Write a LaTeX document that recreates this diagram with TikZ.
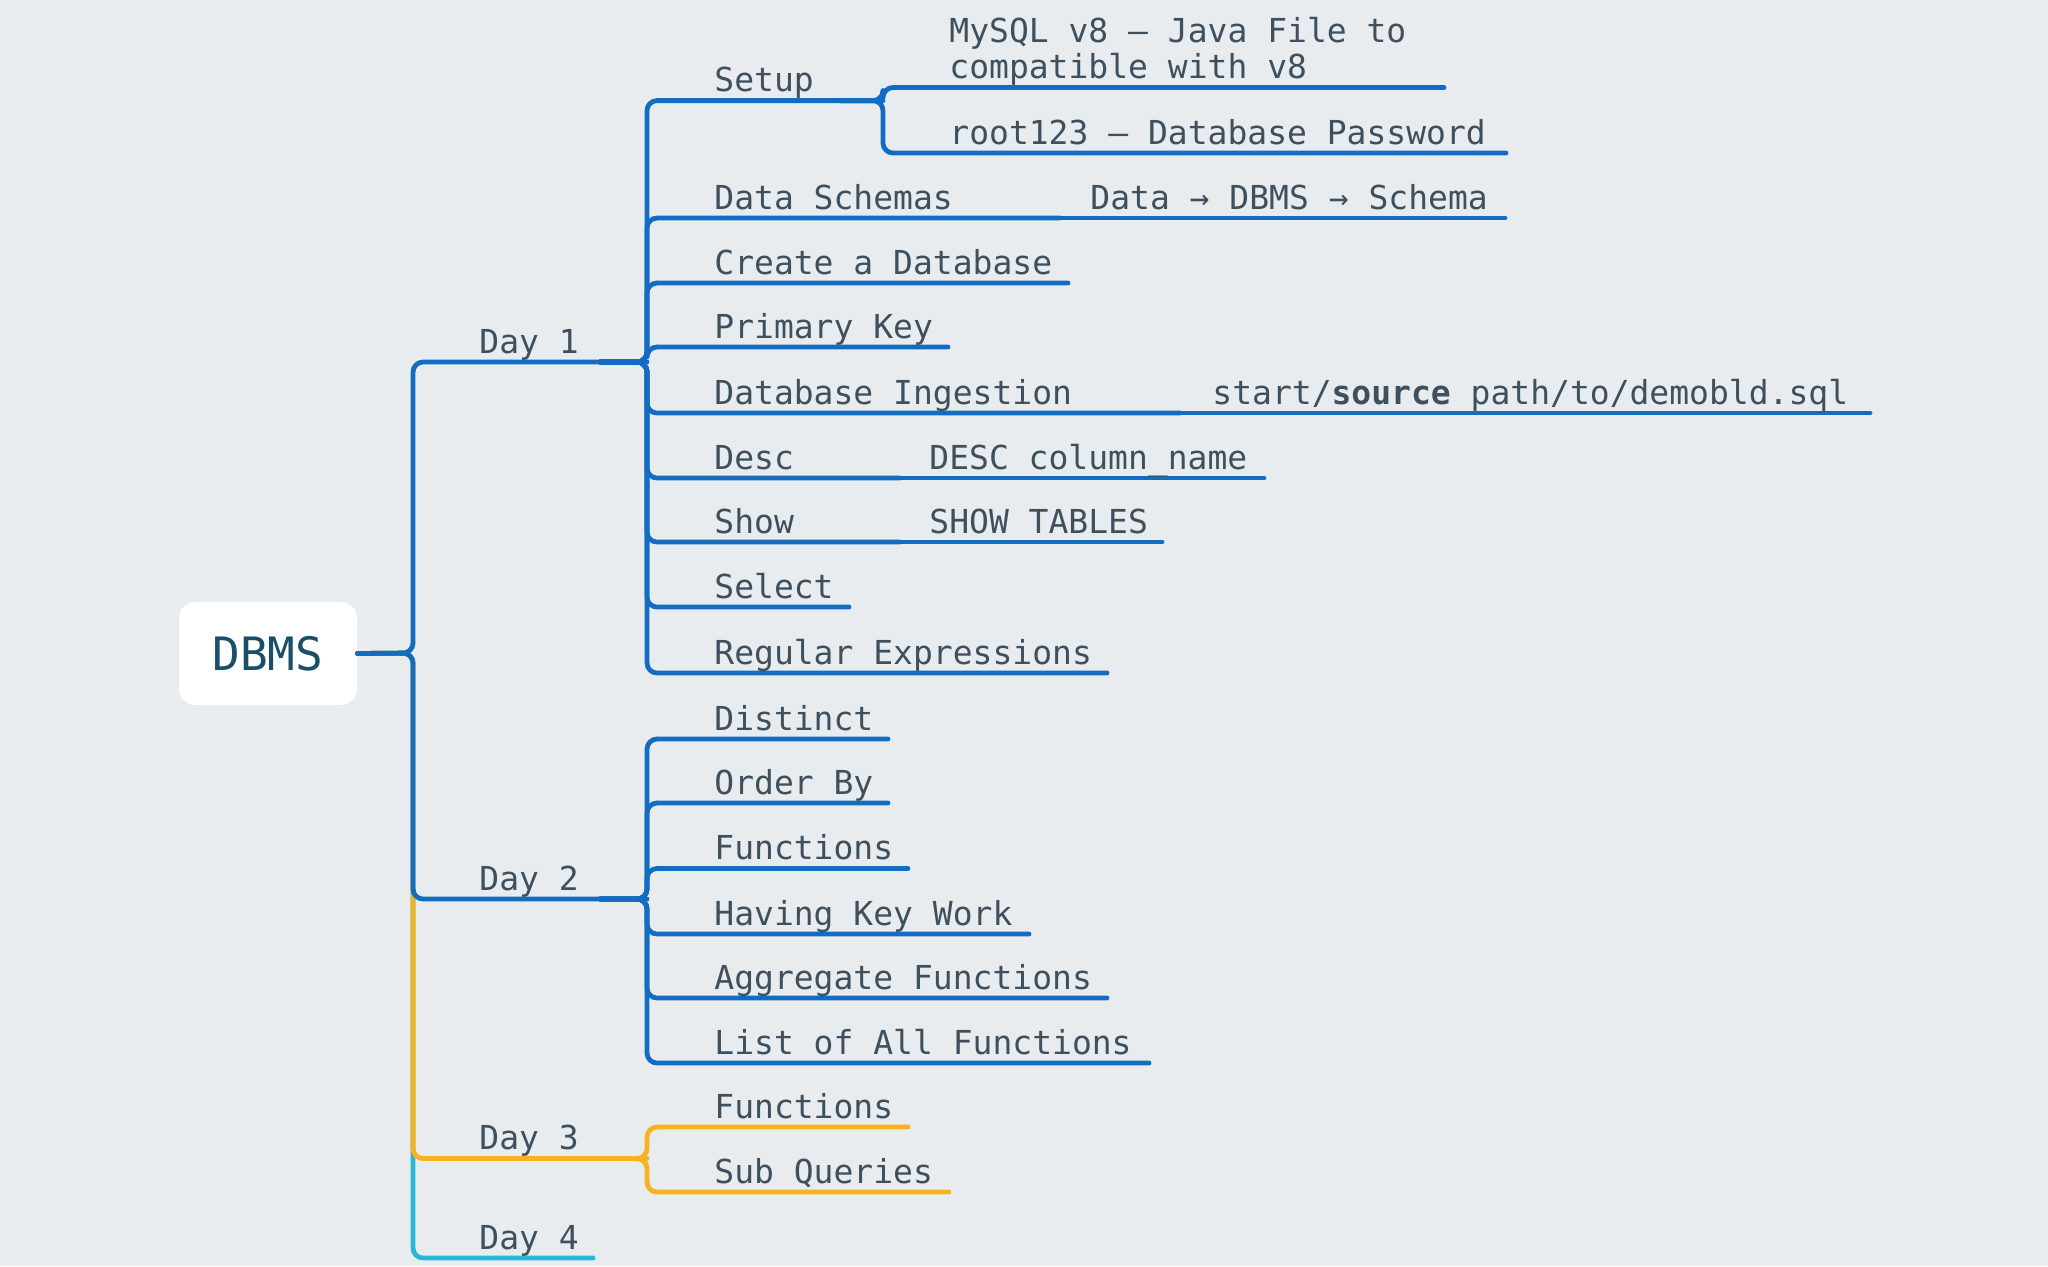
\documentclass[tikz,border=0pt]{standalone}
\usepackage{fontspec}
\setmonofont{DejaVu Sans Mono}
\usetikzlibrary{calc}
\definecolor{mapblue}{RGB}{17,108,194}
\definecolor{mapgold}{RGB}{247,178,30}
\definecolor{mapcyan}{RGB}{41,183,212}
\definecolor{mapink}{RGB}{62,80,94}
\definecolor{maproot}{RGB}{27,78,104}
\definecolor{mapback}{RGB}{232,236,239}

\begin{document}
\begin{tikzpicture}[line cap=round,line join=round,
 x=0.5pt,y=-0.5pt,
 topic/.style={anchor=base west,inner sep=0pt,text=mapink,
  font=\ttfamily\fontsize{16.5}{18}\selectfont},
 branch/.style={line width=2.4pt,rounded corners=5pt}]
 \useasboundingbox (0,0) rectangle (2048,1266);
 \fill[mapback] (0,0) rectangle (2048,1266);
 \node[fill=white,rounded corners=8pt,minimum width=89pt,
  minimum height=51.5pt,text=maproot,
  font=\ttfamily\fontsize{23}{26}\selectfont] (dbms) at (268,653.5) {DBMS};
 \coordinate (hub) at (413,653);
 \coordinate (d1) at (647,362);
 \coordinate (d2) at (647,899);
 \coordinate (d3) at (647,1158.5);
 \coordinate (d4) at (593,1258);
 \coordinate (d1a) at (600,362);
 \coordinate (d2a) at (600,899);
 \coordinate (d3a) at (600,1158.5);
 % line ends of the topics
 \coordinate (setupJ) at (883,100.6);
 \coordinate (setupA) at (840,100.6);
 \coordinate (mysqlE) at (1444,87.5);
 \coordinate (passE) at (1506,153);
 \coordinate (schemaE) at (1060,218);
 \coordinate (flowE) at (1505,218);
 \coordinate (createE) at (1068,283);
 \coordinate (primaryE) at (948,347);
 \coordinate (ingestE) at (1180,413);
 \coordinate (sourceE) at (1870,413);
 \coordinate (descE) at (900,478);
 \coordinate (desccolE) at (1264,478);
 \coordinate (showE) at (900,542);
 \coordinate (tablesE) at (1162,542);
 \coordinate (selectE) at (849,607);
 \coordinate (regexE) at (1107,673);
 \coordinate (distinctE) at (888,739);
 \coordinate (orderE) at (888,803);
 \coordinate (funcE) at (908,868.5);
 \coordinate (havingE) at (1029,934);
 \coordinate (aggrE) at (1107,998);
 \coordinate (listE) at (1149,1063);
 \coordinate (funcbE) at (908,1127);
 \coordinate (subqE) at (949,1192);
 % main branches
 \draw[branch,mapcyan] (dbms.east) -- (hub) |- (d4);
 \draw[branch,mapgold] (dbms.east) -- (hub) |- (d3);
 \draw[branch,mapblue] (dbms.east) -- (hub) |- (d2);
 \draw[branch,mapblue] (dbms.east) -- (hub) |- (d1);
 \foreach \e in {setupJ,schemaE,createE,primaryE,ingestE,descE,showE,
  selectE,regexE}
  \draw[branch,mapblue] (d1a) -- (d1) |- (\e);
 \foreach \e in {mysqlE,passE}
  \draw[branch,mapblue] (setupA) -- (setupJ) |- (\e);
 \draw[branch,mapblue] (schemaE) -- (flowE);
 \draw[branch,mapblue] (ingestE) -- (sourceE);
 \draw[branch,mapblue] (descE) -- (desccolE);
 \draw[branch,mapblue] (showE) -- (tablesE);
 \foreach \e in {distinctE,orderE,funcE,havingE,aggrE,listE}
  \draw[branch,mapblue] (d2a) -- (d2) |- (\e);
 \foreach \e in {funcbE,subqE}
  \draw[branch,mapgold] (d3a) -- (d3) |- (\e);
 % labels
 \node[topic] (day1) at (479,353) {Day 1};
 \node[topic] (day2) at (479,890) {Day 2};
 \node[topic] (day3) at (479,1149.5) {Day 3};
 \node[topic] (day4) at (479,1249) {Day 4};
 \node[topic] (setup) at (714,91.6) {Setup};
 \node[topic,align=left] (mysql) at (949,78.5)
  {MySQL v8 — Java File to\\compatible with v8};
 \node[topic] (pass) at (949,144) {root123 — Database Password};
 \node[topic] (schema) at (714,209) {Data Schemas};
 \node[topic] (flow) at (1090,209) {Data → DBMS → Schema};
 \node[topic] (create) at (714,274) {Create a Database};
 \node[topic] (primary) at (714,338) {Primary Key};
 \node[topic] (ingest) at (714,404) {Database Ingestion};
 \node[topic] (source) at (1212,404)
  {start/\textbf{source} path/to/demobld.sql};
 \node[topic] (desc) at (714,469) {Desc};
 \node[topic] (desccol) at (929,469) {DESC column\_name};
 \node[topic] (show) at (714,533) {Show};
 \node[topic] (tables) at (929,533) {SHOW TABLES};
 \node[topic] (select) at (714,598) {Select};
 \node[topic] (regex) at (714,664) {Regular Expressions};
 \node[topic] (distinct) at (714,730) {Distinct};
 \node[topic] (order) at (714,794) {Order By};
 \node[topic] (func) at (714,859.5) {Functions};
 \node[topic] (having) at (714,925) {Having Key Work};
 \node[topic] (aggr) at (714,989) {Aggregate Functions};
 \node[topic] (list) at (714,1054) {List of All Functions};
 \node[topic] (funcb) at (714,1118) {Functions};
 \node[topic] (subq) at (714,1183) {Sub Queries};
\end{tikzpicture}
\end{document}
